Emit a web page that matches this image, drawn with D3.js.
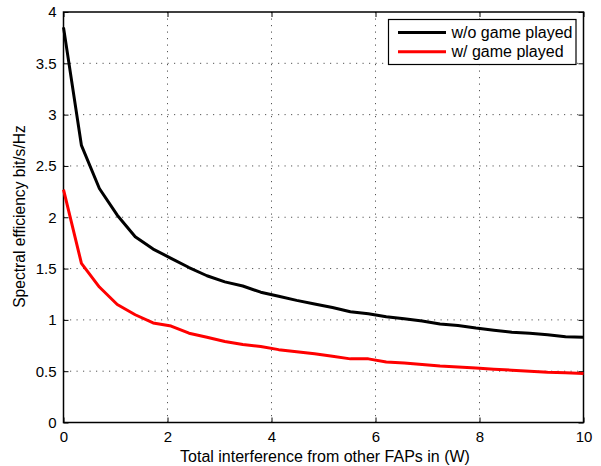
<!DOCTYPE html>
<html><head><meta charset="utf-8">
<script src="https://cdn.jsdelivr.net/npm/d3@7"></script>
<style>
html,body{margin:0;padding:0;background:#fff;}
text{font-family:"Liberation Sans",Arial,Helvetica,sans-serif;fill:#000;}
</style></head>
<body>
<svg id="c" width="601" height="466"></svg>
<script>
const xValues = [0,0.345,0.69,1.034,1.379,1.724,2.069,2.414,2.759,3.103,3.448,3.793,4.138,4.483,4.828,5.172,5.517,5.862,6.207,6.552,6.897,7.241,7.586,7.931,8.276,8.621,8.966,9.31,9.655,10];
const woGame = [3.85,2.70,2.28,2.02,1.81,1.69,1.60,1.51,1.43,1.37,1.33,1.27,1.23,1.19,1.155,1.12,1.08,1.06,1.03,1.01,0.99,0.96,0.945,0.92,0.90,0.88,0.87,0.856,0.835,0.83];
const wGame = [2.27,1.55,1.32,1.15,1.05,0.97,0.94,0.87,0.83,0.79,0.76,0.74,0.71,0.69,0.67,0.645,0.62,0.62,0.59,0.58,0.565,0.55,0.54,0.53,0.52,0.51,0.50,0.49,0.485,0.477];
const seriesNames = ["w/o game played","w/ game played"];
const seriesColors = ["#000000","#ff0000"];
const xTicks = [0,2,4,6,8,10];
const yTicks = [0,0.5,1,1.5,2,2.5,3,3.5,4];
const xLabel = "Total interference from other FAPs in (W)";
const yLabel = "Spectral efficiency bit/s/Hz";

const L=63.5,R=583.5,T=12,B=422.5;
const svg=d3.select("#c");
const x=d3.scaleLinear().domain([0,10]).range([L,R]);
const y=d3.scaleLinear().domain([0,4]).range([B,T]);

// grid
const g=svg.append("g");
g.selectAll(".gx").data(xTicks.slice(1,-1)).enter().append("line")
 .attr("x1",d=>x(d)).attr("x2",d=>x(d)).attr("y1",T).attr("y2",B)
 .attr("stroke","#555").attr("stroke-width",1).attr("stroke-dasharray","1.2,5.3");
g.selectAll(".gy").data(yTicks.slice(1,-1)).enter().append("line")
 .attr("y1",d=>y(d)).attr("y2",d=>y(d)).attr("x1",L).attr("x2",R)
 .attr("stroke","#555").attr("stroke-width",1).attr("stroke-dasharray","1.2,5.3");

// axes
const ax=d3.axisBottom(x).tickValues(xTicks).tickSize(-5).tickPadding(9).tickFormat(d3.format("d"));
const ay=d3.axisLeft(y).tickValues(yTicks).tickSize(-5).tickPadding(7).tickFormat(d=>String(d));
const gx=svg.append("g").attr("transform",`translate(0,${B})`).call(ax);
const gy=svg.append("g").attr("transform",`translate(${L},0)`).call(ay);
const gxt=svg.append("g").attr("transform",`translate(0,${T})`).call(d3.axisTop(x).tickValues(xTicks).tickSize(-5).tickFormat(""));
const gyr=svg.append("g").attr("transform",`translate(${R},0)`).call(d3.axisRight(y).tickValues(yTicks).tickSize(-5).tickFormat(""));
[gx,gy,gxt,gyr].forEach(a=>{
  a.select(".domain").remove();
  a.selectAll("line").attr("stroke","#000").attr("stroke-width",1);
  a.selectAll("text").style("font-size","15px").style("font-family","'Liberation Sans',Arial,sans-serif").attr("fill","#000");
});
svg.append("rect").attr("x",L).attr("y",T).attr("width",R-L).attr("height",B-T)
 .attr("fill","none").attr("stroke","#000").attr("stroke-width",1.5);

// lines
const line=d3.line().x((d,i)=>x(xValues[i])).y(d=>y(d));
[woGame,wGame].forEach((s,k)=>{
  svg.append("path").datum(s).attr("d",line).attr("fill","none")
   .attr("stroke",seriesColors[k]).attr("stroke-width",3).attr("stroke-linejoin","round");
});

// labels
svg.append("text").attr("x",325).attr("y",462).attr("text-anchor","middle")
 .style("font-size","16px").text(xLabel);
svg.append("text").attr("transform",`translate(25,216.5) rotate(-90)`).attr("text-anchor","middle")
 .style("font-size","15.6px").text(yLabel);

// legend
const lg=svg.append("g");
lg.append("rect").attr("x",388.5).attr("y",19.5).attr("width",187.5).attr("height",45)
 .attr("fill","#fff").attr("stroke","#000").attr("stroke-width",1.2);
seriesNames.forEach((n,k)=>{
  const yy=32.5+k*19.3;
  lg.append("line").attr("x1",398).attr("x2",446).attr("y1",yy).attr("y2",yy)
   .attr("stroke",seriesColors[k]).attr("stroke-width",3);
  lg.append("text").attr("x",451.5).attr("y",yy+5.3).style("font-size","16px").text(n);
});
</script>
</body></html>
